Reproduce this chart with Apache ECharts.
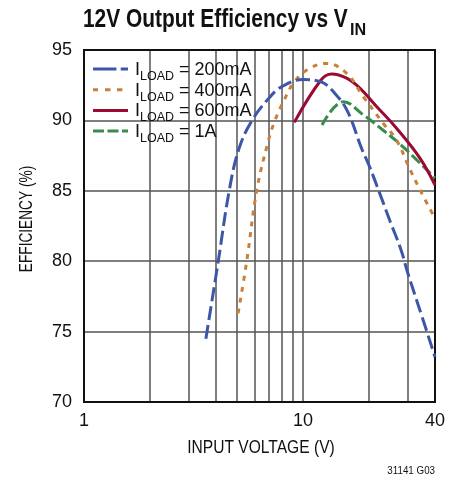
<!DOCTYPE html>
<html>
<head>
<meta charset="utf-8">
<script src="https://cdn.jsdelivr.net/npm/echarts@6/dist/echarts.min.js"></script>
<style>
html,body{margin:0;padding:0;background:#fff;}
#chart{width:458px;height:481px;}
</style>
</head>
<body>
<div id="chart"></div>
<script>
var FONT = '"Liberation Sans", Arial, sans-serif';

var seriesNames = ['200mA', '400mA', '600mA', '1A'];
var seriesColors = ['#3d57a8', '#c8803a', '#9b0a32', '#3a8c4c'];

var load200mA = [[3.6,74.5],[4.1,80],[4.6,85],[5.1,88],[5.85,90],[7,91.6],[8,92.4],[10,92.9],[12,92.75],[14,91.9],[16,90.6],[18.5,88],[20,86.8],[22.4,84.8],[25,82.8],[28,80.8],[30,79.2],[35,76],[40,73.2]];
var load400mA = [[5.05,76.3],[5.53,80],[6.14,85],[6.9,88.4],[7.44,90],[8.13,91.33],[9.02,92.63],[10.4,93.58],[12.8,94.05],[15.8,93.34],[18.8,91.7],[23.2,89.8],[26.7,88.6],[30.8,86.5],[35.4,84.6],[40,83.05]];
var load600mA = [[9.12,89.86],[12.07,92.87],[13.5,93.3],[15.8,93.0],[18.2,92.28],[21.7,90.97],[26.7,89.44],[34.2,87.3],[40,85.4]];
var load1A = [[12.2,89.67],[15.3,91.33],[18.8,90.4],[23.2,89.3],[28.7,88.1],[40,85.9]];

var xGridValues = [1,2,3,4,5,6,7,8,9,10,20,30,40];
var xLabelValues = [1,10,40];

var PAD = 'M34.9,1.5h0.1v0.01h-0.1z';
var legendIcons = [
  'path://M0,0h23.4v3h-23.4zM27.7,0h7.3v3h-7.3z',
  'path://M0,0h5v3h-5zM12,0h5.5v3h-5.5zM24,0h5.4v3h-5.4z' + PAD,
  'path://M0,0h35v3h-35z',
  'path://M0,0h11v3h-11zM14.5,0h11v3h-11zM29,0h6v3h-6z'
];

var chart = echarts.init(document.getElementById('chart'));

function mk(i, data, dashType) {
  return {
    name: seriesNames[i],
    type: 'line',
    data: data,
    smooth: 0.4,
    symbol: 'none',
    z: 10 - i,
    lineStyle: { color: seriesColors[i], width: 3, type: dashType },
    itemStyle: { color: seriesColors[i] }
  };
}

chart.setOption({
  animation: false,
  backgroundColor: '#fff',
  legend: {
    orient: 'vertical',
    left: 93,
    top: 61,
    padding: 0,
    itemWidth: 35,
    itemHeight: 3,
    itemGap: -1.3,
    data: seriesNames.map(function (n, i) { return { name: n, icon: legendIcons[i] }; }),
    formatter: function (n) { return '{a|I}{b|LOAD}{a| = ' + n + '}'; },
    textStyle: {
      padding: [0, 0, 0, 2],
      rich: {
        a: { fontFamily: FONT, fontSize: 18, color: '#111', verticalAlign: 'bottom', lineHeight: 20 },
        b: { fontFamily: FONT, fontSize: 12.5, color: '#111', verticalAlign: 'bottom', padding: [0,0,-4,0], lineHeight: 12 }
      }
    }
  },
  grid: { left: 84, right: 23, top: 50, bottom: 79, show: true, borderColor: '#111', borderWidth: 2, backgroundColor: 'transparent', z: 5 },
  xAxis: {
    type: 'log',
    logBase: 10,
    min: 1,
    max: 40,
    axisLine: { show: true, lineStyle: { color: '#111', width: 2 } },
    axisTick: { show: false, customValues: xGridValues },
    axisLabel: { customValues: xLabelValues, fontFamily: FONT, fontSize: 18, color: '#111', margin: 10 },
    splitLine: { show: true, lineStyle: { color: '#555', width: 1.5 } }
  },
  yAxis: {
    type: 'value',
    min: 70,
    max: 95,
    interval: 5,
    axisLine: { show: true, lineStyle: { color: '#111', width: 2 } },
    axisTick: { show: false },
    axisLabel: { fontFamily: FONT, fontSize: 18, color: '#111', margin: 12 },
    splitLine: { show: true, lineStyle: { color: '#555', width: 1.5 } }
  },
  graphic: [
    {
      type: 'text', x: 83, y: 8, scaleX: 0.836,
      style: { text: '12V Output Efficiency vs V', fontFamily: FONT, fontWeight: 'bold', fontSize: 25, fill: '#111', align: 'left', verticalAlign: 'top' }
    },
    {
      type: 'text', x: 350, y: 22, scaleX: 0.95,
      style: { text: 'IN', fontFamily: FONT, fontWeight: 'bold', fontSize: 17, fill: '#111', align: 'left', verticalAlign: 'top' }
    },
    {
      type: 'text', x: 27, y: 219, rotation: Math.PI / 2, scaleX: 0.72,
      style: { text: 'EFFICIENCY (%)', fontFamily: FONT, fontSize: 19, fill: '#111', align: 'center', verticalAlign: 'middle' }
    },
    {
      type: 'text', x: 261, y: 448, scaleX: 0.82,
      style: { text: 'INPUT VOLTAGE (V)', fontFamily: FONT, fontSize: 19, fill: '#111', align: 'center', verticalAlign: 'middle' }
    },
    {
      type: 'text', x: 435, y: 471, scaleX: 0.85,
      style: { text: '31141 G03', fontFamily: FONT, fontSize: 11.5, fill: '#111', align: 'right', verticalAlign: 'middle' }
    }
  ],
  series: [
    mk(0, load200mA, [14, 5]),
    mk(1, load400mA, [5, 6]),
    mk(2, load600mA, 'solid'),
    mk(3, load1A, [11, 4])
  ]
});
</script>
</body>
</html>
